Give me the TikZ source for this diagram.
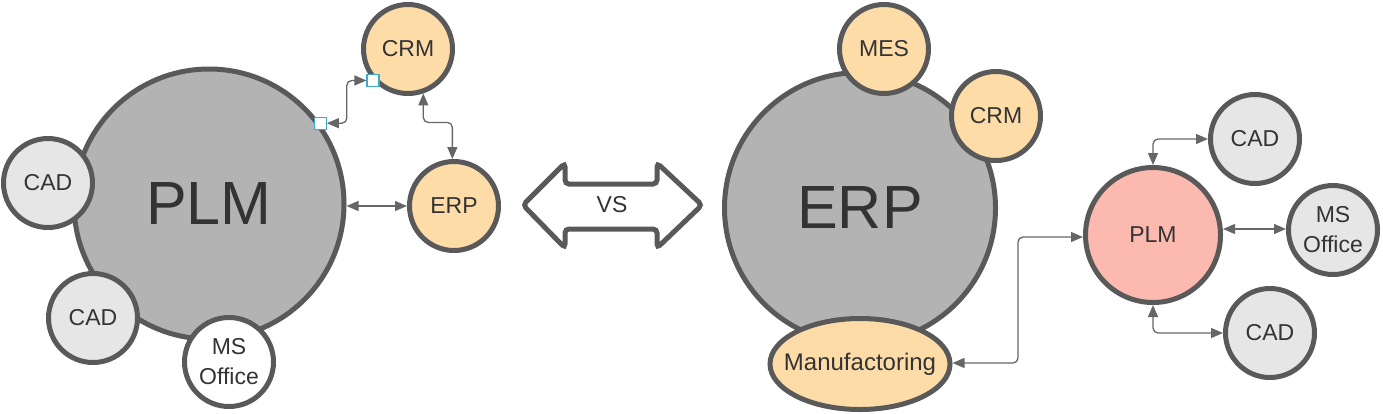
\documentclass[tikz,border=0pt]{standalone}
\usepackage{fontspec}
\setmainfont{Liberation Sans}
\usetikzlibrary{arrows.meta,shapes.geometric}
\definecolor{edge}{HTML}{595959}
\definecolor{bigfill}{HTML}{B3B3B3}
\definecolor{lightfill}{HTML}{E6E6E6}
\definecolor{orangefill}{HTML}{FDDCA8}
\definecolor{pinkfill}{HTML}{FCB9B0}
\definecolor{txt}{HTML}{333333}
\definecolor{conn}{HTML}{666666}
\definecolor{handle}{HTML}{3FA9C9}
\tikzset{
  x=1pt, y=-1pt,
  circ/.style={circle, draw=edge, line width=5pt, inner sep=0pt, text=txt,
     font=\fontsize{23}{30}\selectfont, align=center},
  bigc/.style={circ, fill=bigfill, minimum size=270pt, font=\fontsize{61}{70}\selectfont},
  smallc/.style={circ, minimum size=89pt},
  conline/.style={draw=conn, line width=1.3pt, rounded corners=5pt,
     {Triangle[length=12pt,width=10pt]}-{Triangle[length=12pt,width=10pt]}},
  handlebox/.style={draw=handle, fill=white, line width=1.2pt, minimum size=12pt, inner sep=0pt, rectangle}
}
\begin{document}
\begin{tikzpicture}
\useasboundingbox (0,0) rectangle (1383,413);
% left side
\node[bigc, minimum size=270pt] (plm) at (209,204) {PLM};
\node[smallc, fill=lightfill] (cad1) at (48,183) {CAD};
\node[smallc, fill=lightfill] (cad2) at (93,318) {CAD};
\node[smallc, fill=white] (mso1) at (229,362) {MS\\Office};
\node[smallc, fill=orangefill] (crm1) at (408,49) {CRM};
\node[smallc, fill=orangefill] (erp1) at (454,206) {ERP};
% connectors left
\node[handlebox] (h1) at (plm.36) {};
\node[handlebox] (h2) at (crm1.222) {};
\draw[conline] (h1.east) -- ++(20,0) |- (h2.west);
\draw[conline] (crm1.-71) -- ++(0,29) -| (erp1.92);
\draw[conline] (erp1.west) -- (erp1.west -| plm.east);
% VS arrow
\draw[draw=edge, line width=5pt, rounded corners=4pt, fill=white]
  (523,205) -- (565,163) -- (565,184) -- (657,184) -- (657,163) -- (702,205)
  -- (657,248) -- (657,229) -- (565,229) -- (565,248) -- cycle;
\node[text=txt, font=\fontsize{23}{28}\selectfont] (vs) at (612,205) {VS};
% right side
\node[bigc, minimum size=271pt] (erp) at (860,208) {ERP};
\node[smallc, fill=orangefill] (mes) at (884,49) {MES};
\node[smallc, fill=orangefill] (crm2) at (996,116) {CRM};
\node[ellipse, draw=edge, line width=5pt, fill=orangefill, minimum width=180pt, minimum height=91pt,
   inner sep=0pt, text=txt, font=\fontsize{24}{28}\selectfont] (man) at (860,364) {\makebox[0pt]{Manufactoring}};
\node[circ, fill=pinkfill, minimum size=135pt] (plm2) at (1153,235) {PLM};
\node[smallc, fill=lightfill] (cad3) at (1255,139) {CAD};
\node[smallc, fill=lightfill] (mso2) at (1333,230) {MS\\Office};
\node[smallc, fill=lightfill] (cad4) at (1270,333) {CAD};
% connectors right
\draw[conline] (man.east |- 0,363) -- (1018,363) |- (plm2.west |- 0,237);
\draw[conline] (plm2.north) |- (cad3.west);
\draw[conline] (plm2.east |- 0,229) -- (mso2.west |- 0,229);
\draw[conline] (plm2.south) |- (cad4.west);
\end{tikzpicture}
\end{document}
